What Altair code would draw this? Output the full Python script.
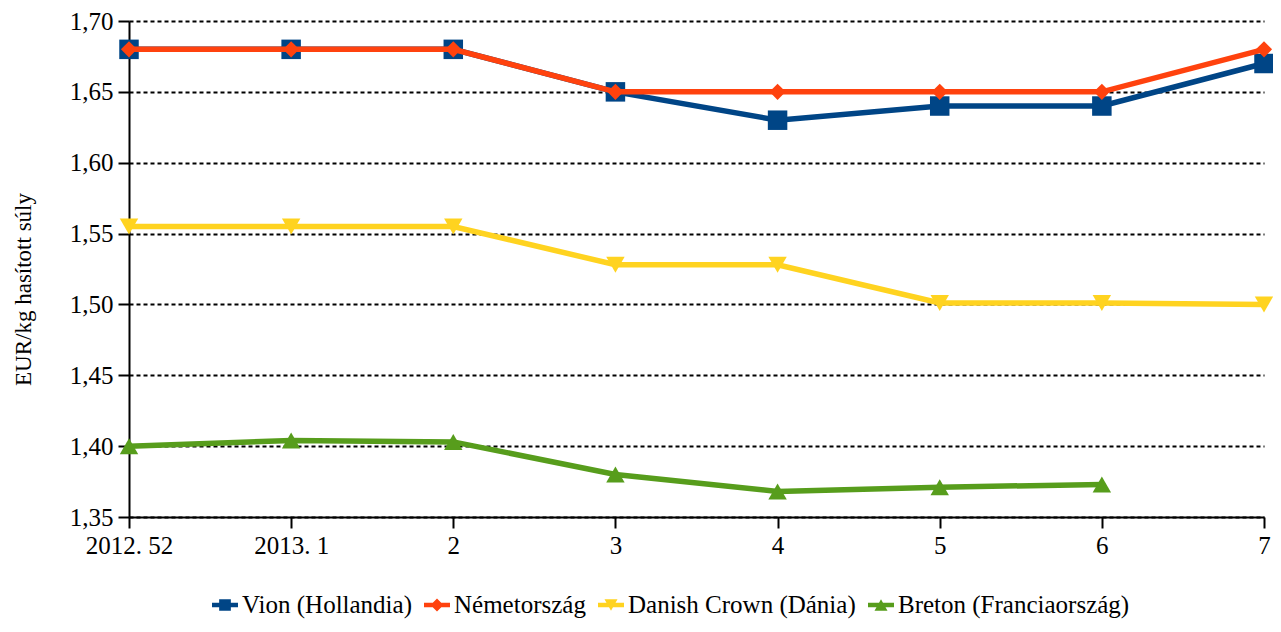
import altair as alt
import pandas as pd

weeks = ["2012. 52", "2013. 1", "2", "3", "4", "5", "6", "7"]
series_names = ["Vion (Hollandia)", "Németország", "Danish Crown (Dánia)", "Breton (Franciaország)"]
vion = [1.68, 1.68, 1.68, 1.65, 1.63, 1.64, 1.64, 1.67]
nemet = [1.68, 1.68, 1.68, 1.65, 1.65, 1.65, 1.65, 1.68]
danish = [1.555, 1.555, 1.555, 1.528, 1.528, 1.501, 1.501, 1.500]
breton = [1.400, 1.404, 1.403, 1.380, 1.368, 1.371, 1.373, None]
y_ticks = [1.35, 1.40, 1.45, 1.50, 1.55, 1.60, 1.65, 1.70]

colors = ["#004586", "#ff420e", "#ffd320", "#579d1c"]
shapes = ["square", "diamond", "triangle-down", "triangle-up"]
sizes = [380, 260, 340, 340]
legend_paths = [
    "M-1,-0.17H1V0.17H-1Z M-0.45,-0.45H0.45V0.45H-0.45Z",
    "M-1,-0.17H1V0.17H-1Z M0,-0.5L0.5,0L0,0.5L-0.5,0Z",
    "M-1,-0.17H1V0.17H-1Z M-0.5,-0.45L0.5,-0.45L0,0.45Z",
    "M-1,-0.17H1V0.17H-1Z M0,-0.45L0.5,0.45L-0.5,0.45Z",
]

rows = []
for name, vals in zip(series_names, [vion, nemet, danish, breton]):
    for w, v in zip(weeks, vals):
        if v is not None:
            rows.append({"week": w, "series": name, "value": v})
df = pd.DataFrame(rows)

FONT = "Liberation Serif"

x_enc = alt.X("week:N", sort=weeks, scale=alt.Scale(type="point", padding=0),
              axis=alt.Axis(title=None, labelAngle=0, grid=False))
y_enc = alt.Y("value:Q", scale=alt.Scale(domain=[1.35, 1.70], nice=False, zero=False),
              axis=alt.Axis(values=y_ticks, title="EUR/kg hasított súly",
                            labelExpr="replace(format(datum.value, '.2f'), '.', ',')",
                            grid=True, titleX=-94, titleY=268, titleFont=FONT,
                            titleFontSize=23, titleFontWeight="normal", titleColor="black"))

base = alt.Chart(df)
layers = []
for name, c, shp, sz in zip(series_names, colors, shapes, sizes):
    sub = base.transform_filter(alt.datum.series == name)
    layers.append(sub.mark_line(color=c, strokeWidth=5.5).encode(x=x_enc, y=y_enc))
    layers.append(sub.mark_point(shape=shp, filled=True, color=c, size=sz, opacity=1).encode(x=x_enc, y=y_enc))

leg = dict(title=None, orient="none", legendX=83, legendY=571,
           direction="horizontal", columns=4, symbolSize=676,
           labelFont=FONT, labelFontSize=25, labelColor="black",
           labelLimit=500, columnPadding=12, labelOffset=4,
           symbolOpacity=1, symbolStrokeWidth=0)

legend_layer = base.transform_filter("false").mark_point(filled=True, opacity=1).encode(
    x=x_enc, y=y_enc,
    color=alt.Color("series:N", scale=alt.Scale(domain=series_names, range=colors),
                    legend=alt.Legend(**leg)),
    shape=alt.Shape("series:N", scale=alt.Scale(domain=series_names, range=legend_paths),
                    legend=alt.Legend(**leg)),
)

chart = alt.layer(legend_layer, *layers).properties(
    width=1135, height=496,
    autosize=alt.AutoSizeParams(type="none"),
    padding={"left": 121, "top": 13, "right": 9, "bottom": 106},
    background="white",
).configure_view(stroke=None).configure_axis(
    domainColor="black", domainWidth=2, tickColor="black", tickWidth=2, tickSize=11,
    labelFont=FONT, labelFontSize=25, labelColor="black", labelPadding=5,
    gridColor="black", gridDash=[4, 3], gridWidth=2, gridOpacity=1,
)

chart.save("out.html", embed_options={"renderer": "svg", "actions": False})
